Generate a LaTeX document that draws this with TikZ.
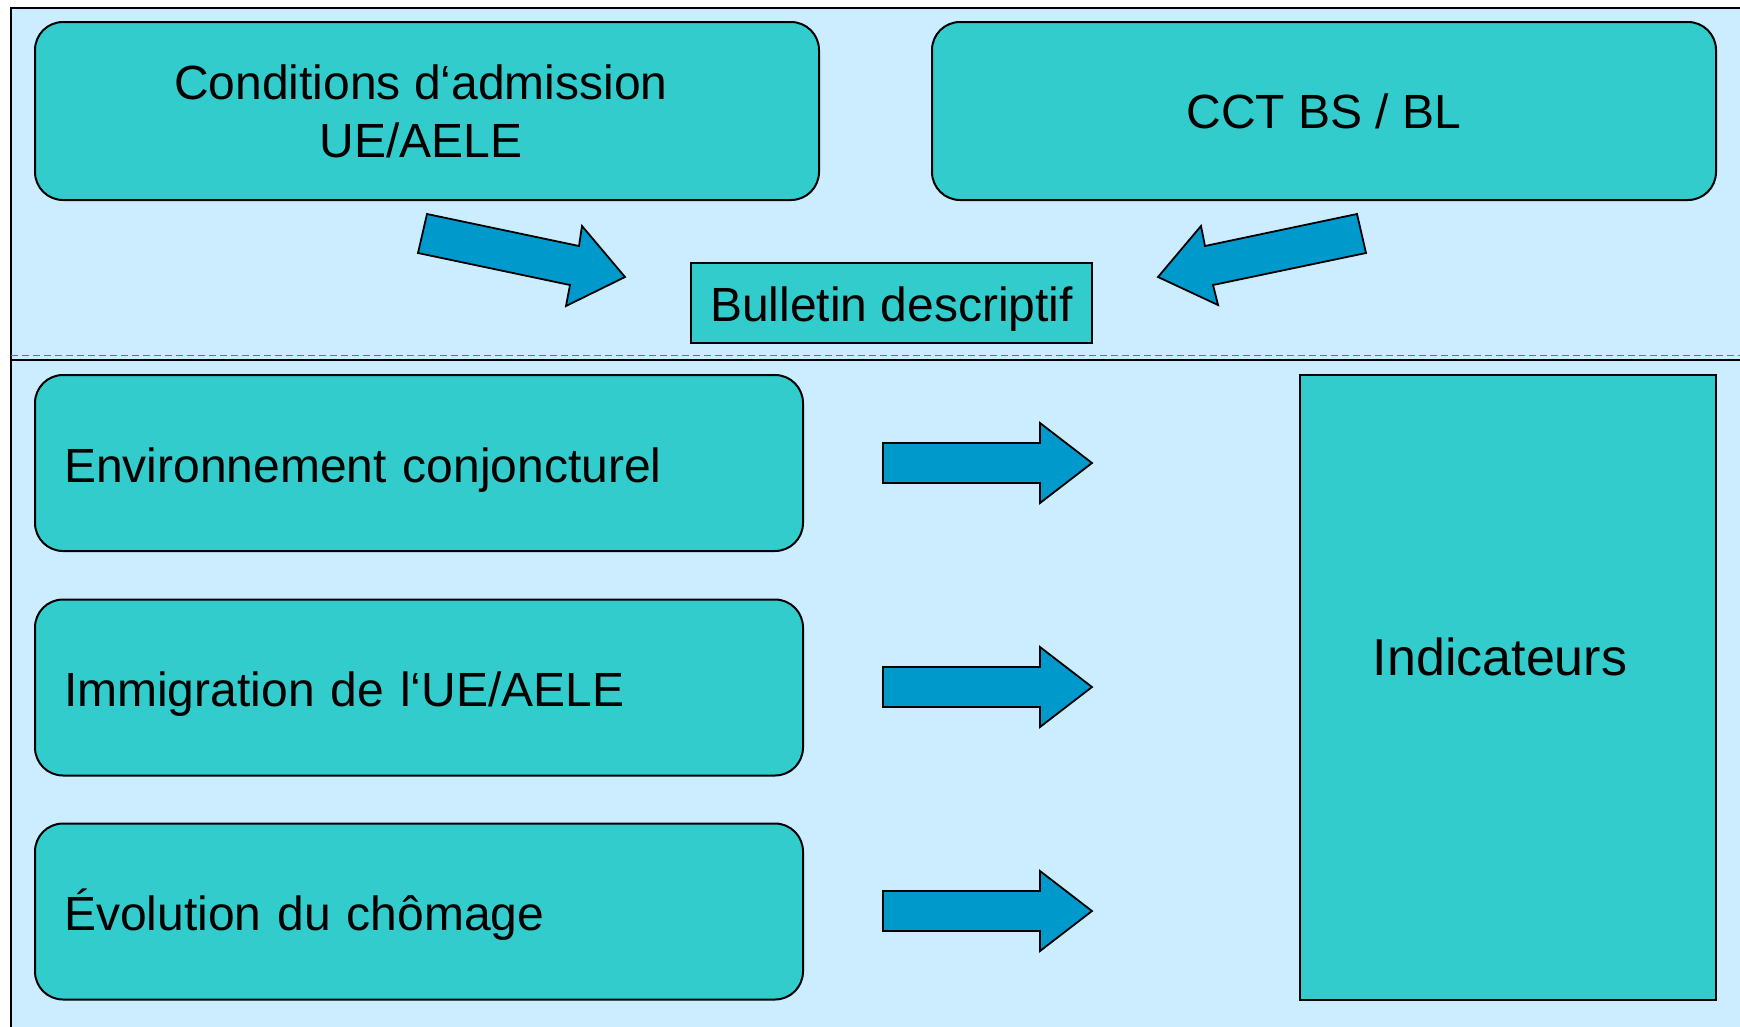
\documentclass[tikz,border=0pt]{standalone}
\usepackage{fontspec}
\setmainfont{Liberation Sans}
\definecolor{bgc}{HTML}{CCECFF}
\definecolor{boxc}{HTML}{33CCCC}
\definecolor{arrowc}{HTML}{0099CC}
\begin{document}
\begin{tikzpicture}[x=1pt,y=-1pt,
  rbox/.style={draw=black, line width=2pt, fill=boxc, rounded corners=28pt, outer sep=0pt,
    font=\fontsize{48}{58}\selectfont, inner sep=0pt},
  sbox/.style={draw=black, line width=2pt, fill=boxc, outer sep=0pt,
    font=\fontsize{48}{58}\selectfont, inner sep=0pt},
  leftbox/.style={rbox, minimum width=768pt, minimum height=176pt, text width=710pt,
    inner xsep=29pt, align=left, text height=48pt, text depth=10pt},
  blockarrow/.style={fill=arrowc, draw=black, line width=1.8pt, line join=miter},
  pics/harrow/.style={code={
    \draw[blockarrow] (0,-20) -- (157,-20) -- (157,-40) -- (209,0) -- (157,40) -- (157,20) -- (0,20) -- cycle;}}
]
\useasboundingbox (0,0) rectangle (1740,1026);
% background frame
\fill[bgc] (11,8) rectangle (1750,1036);
\draw[line width=2pt] (11,1036) -- (11,8) -- (1750,8);
% divider
\draw[arrowc, line width=1.5pt, dash pattern=on 7pt off 4pt] (11,355.5) -- (1750,355.5);
\draw[line width=2pt] (11,359.5) -- (1750,359.5);

% top boxes
\node[rbox, minimum width=784pt, minimum height=178pt, align=center] (cond) at (427,111)
  {Conditions d‘admission\hspace*{12pt}\\UE/AELE\hspace*{12pt}};
\node[rbox, minimum width=784pt, minimum height=178pt] (cct) at (1324,111) {CCT BS / BL};
\node[sbox, minimum width=401pt, minimum height=80pt, text height=46pt, text depth=10pt] (bull) at (891.5,303) {Bulletin descriptif};

% diagonal arrows
\draw[blockarrow] (427,214) -- (579,246) -- (582,226) -- (625,277) -- (566,306) -- (570,285) -- (418,253) -- cycle;
\draw[blockarrow] (1357,214) -- (1205,246) -- (1201,226) -- (1158,277) -- (1218,305) -- (1213,285) -- (1366,253) -- cycle;

% left boxes
\node[leftbox] (env) at (419,463) {Environnement conjoncturel};
\node[leftbox] (imm) at (419,687.5) {Immigration de l‘UE/AELE};
\node[leftbox] (evo) at (419,911.5) {Évolution du chômage};

% horizontal arrows
\coordinate (a1) at (883,463);
\coordinate (a2) at (883,687);
\coordinate (a3) at (883,911);
\pic at (a1) {harrow};
\pic at (a2) {harrow};
\pic at (a3) {harrow};

% indicators
\node[sbox, minimum width=416pt, minimum height=625pt] (ind) at (1508,687.5) {};
\node[font=\fontsize{52}{62}\selectfont, inner sep=0pt] (indtext) at (1500,657) {Indicateurs};
\end{tikzpicture}
\end{document}
